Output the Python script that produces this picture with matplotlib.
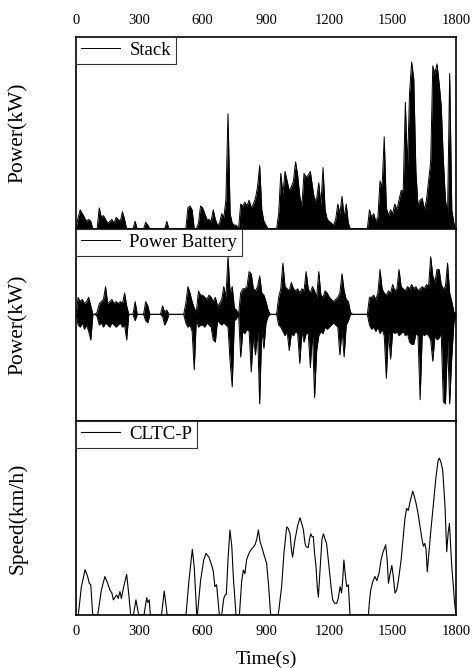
import numpy as np
import matplotlib
matplotlib.use("Agg")
import matplotlib.pyplot as plt

plt.rcParams['font.family'] = ['Liberation Serif', 'DejaVu Serif']

# ---- data ----
time_grid = np.arange(0, 1810, 10)  # 10 s samples, 0..1800

# Stack power, upper envelope per 10 s (relative kW units, panel 0..100)
stack_hi = [
    0, 6, 10, 8, 6, 4, 5, 4, 0, 0,
    0, 11, 6, 7, 5, 3, 4, 5, 3, 6,
    5, 4, 9, 5, 0, 0, 0, 0, 4, 0,
    0, 0, 0, 3.5, 2, 0, 0, 0, 0, 0,
    0, 0, 0, 4, 0, 0, 0, 0, 0, 0,
    0, 0, 0, 11, 12, 10, 0, 0, 3, 12,
    11, 8, 5, 5, 4, 10, 5, 2, 3, 8,
    6, 15, 60, 8, 3, 2, 2, 0, 13, 12,
    14, 12, 15, 11, 13, 16, 22, 33, 10, 4,
    2, 0, 0, 0, 0, 0, 8, 29, 18, 30,
    25, 20, 22, 25, 35, 28, 17, 12, 29, 27,
    28, 30, 22, 15, 16, 24, 12, 32, 10, 5,
    4, 3, 2, 5, 13, 8, 17, 6, 13, 3,
    0, 0, 0, 0, 0, 0, 0, 0, 0, 10,
    6, 8, 4, 6, 25, 22, 48, 11, 7, 10,
    8, 13, 10, 15, 20, 20, 66, 32, 71, 87,
    78, 30, 12, 15, 16, 10, 15, 25, 35, 85,
    81, 86, 76, 64, 36, 15, 8, 81, 10, 3,
    0,
]

# Power battery, upper / lower envelopes per 10 s (relative kW units)
batt_hi = [
    0, 8, 6, 7, 5, 6, 8, 4, 0, 0,
    1, 5, 6, 7, 13, 5, 6, 7, 5, 6,
    5, 6, 5, 10, 4, 0, 0, 0, 6, 0,
    0, 0, 0, 6, 4, 0, 0, 0, 0, 0,
    0, 4, 1, 2, 0, 0, 0, 0, 0, 0,
    0, 0, 5, 13, 10, 6, 3, 1, 11, 9,
    9, 8, 7, 9, 8, 6, 8, 4, 5, 7,
    13, 8, 27, 10, 13, 3, 2, 0, 10, 12,
    12, 13, 20, 19, 12, 11, 13, 18, 10, 9,
    6, 2, 0, 0, 0, 0, 8, 12, 24, 13,
    12, 11, 15, 12, 11, 12, 10, 12, 11, 20,
    12, 10, 13, 11, 8, 20, 9, 8, 11, 10,
    8, 7, 6, 7, 8, 10, 19, 11, 7, 6,
    1, 0, 0, 0, 0, 0, 0, 0, 0, 8,
    8, 9, 7, 10, 21, 12, 10, 9, 11, 10,
    14, 11, 12, 21, 13, 12, 11, 13, 12, 14,
    12, 13, 11, 12, 13, 12, 14, 13, 27, 18,
    15, 21, 21, 14, 12, 13, 24, 10, 6, 1,
    0.5,
]
batt_lo = [
    0, -5, -6, -4, -7, -5, -8, -12, 0, 0,
    -1, -5, -4, -6, -4, -5, -6, -4, -5, -6,
    -5, -4, -6, -5, -12, 0, 0, 0, -3, 0,
    0, 0, 0, -3, -4, 0, 0, 0, 0, 0,
    0, -1, -5, -3, 0, 0, 0, 0, 0, 0,
    0, 0, -4, -6, -5, -8, -26, -2, -6, -5,
    -5, -6, -4, -5, -6, -12, -13, -3, -4, -5,
    -4, -5, -6, -22, -34, -3, -2, 0, -20, -8,
    -9, -7, -8, -27, -10, -19, -8, -42, -7, -16,
    -4, -1, 0, 0, 0, 0, -5, -6, -8, -10,
    -8, -17, -9, -10, -8, -9, -23, -8, -13, -9,
    -9, -25, -8, -39, -17, -10, -8, -9, -6, -7,
    -6, -5, -4, -5, -6, -19, -7, -20, -5, -3,
    0, 0, 0, 0, 0, 0, 0, 0, 0, -5,
    -7, -6, -8, -6, -9, -7, -10, -30, -8, -21,
    -8, -9, -8, -10, -9, -8, -10, -9, -13, -14,
    -14, -9, -10, -40, -9, -10, -9, -10, -12, -22,
    -10, -12, -11, -9, -41, -42, -12, -42, -20, -4,
    0,
]

# CLTC-P speed trace (km/h), key points
speed_t = [0, 11, 25, 43, 55, 63, 70, 79,
           103, 120, 137, 150, 161, 170, 177, 185, 193, 200, 208, 215, 225, 240, 250, 259,
           272, 284, 297,
           322, 335, 340, 347, 352,
           405, 418, 432,
           521, 535, 551, 560, 572,
           575, 590, 605, 616, 630, 643, 650, 658, 666, 679,
           690, 700, 706, 712, 720, 729, 738, 745, 758,
           774, 785, 793, 800, 808, 817, 827, 838, 848, 856, 864, 872, 880, 890, 903, 912, 922,
           958, 966, 974, 985, 998, 1005, 1014, 1020, 1026, 1037, 1050, 1061, 1070, 1077, 1085,
           1090, 1100, 1106, 1112, 1118, 1124, 1130, 1137, 1143, 1148, 1155, 1165, 1172, 1180,
           1187, 1195, 1203, 1210, 1216, 1225, 1235, 1242, 1251, 1258, 1263, 1269, 1275, 1282,
           1290, 1298,
           1385, 1390, 1396, 1405, 1416, 1425, 1435, 1445, 1453, 1467, 1474, 1480, 1488, 1496,
           1503, 1511, 1519, 1527, 1540, 1550, 1558, 1566, 1574, 1582, 1595, 1603, 1611, 1620,
           1630, 1640, 1646, 1652, 1658, 1664, 1670, 1680, 1693, 1705, 1715, 1721, 1729, 1737,
           1748, 1756, 1763, 1769, 1775, 1780, 1787, 1792, 1800]
speed_v = [0, 0, 20, 33, 28, 23, 22, 0,
           0, 18, 28, 23, 18, 16, 11, 13, 14.5, 12, 17, 12, 20, 29.5, 15, 0,
           0, 11, 0,
           0, 12.6, 9, 11, 0,
           0, 17.4, 0,
           0, 25, 47.7, 35, 0,
           0, 25, 40, 44.8, 42, 36, 32, 20.6, 22, 0,
           0, 12, 14.5, 15, 40, 61.7, 50, 28, 0,
           0, 25, 32.7, 30, 40, 44, 47, 49, 51, 55, 61.7, 53, 49.6, 44, 37.5, 22, 0,
           0, 10, 20.6, 45, 64, 63, 59, 48, 42, 54.5, 65, 70.7, 66, 62, 52,
           49.6, 49, 55, 59, 57, 57, 45, 35, 20, 13, 30, 55, 59, 55,
           52, 40, 28, 18, 11, 8.5, 8.5, 12, 20.6, 16, 25, 40, 30, 20.6,
           22, 0,
           0, 10, 18, 24, 28, 25, 30, 40, 45, 51, 40, 23, 30, 36,
           28, 16, 18, 25, 40, 57, 70, 77.5, 76, 82, 90, 86, 81, 74,
           64, 54, 50, 52, 48, 31.5, 42, 60, 81, 100, 112, 114, 111, 105,
           79, 46, 60, 66.6, 50, 35, 22, 11, 0]

x_ticks = [0, 300, 600, 900, 1200, 1500, 1800]
series_names = ['Stack', 'Power Battery', 'CLTC-P']
y_labels = ['Power(kW)', 'Power(kW)', 'Speed(km/h)']

# ---- figure ----
W, H = 474, 668
fig = plt.figure(figsize=(W / 100, H / 100), dpi=100)
left, right = 76 / W, 456 / W
bounds = [(37, 229), (229, 421), (421, 615)]
axes = []
for top, bot in bounds:
    ax = fig.add_axes([left, 1 - bot / H, right - left, (bot - top) / H])
    axes.append(ax)

t = time_grid
ax1, ax2, ax3 = axes

ax1.fill_between(t, 0, stack_hi, color='black', lw=0)
ax1.plot(t, stack_hi, color='black', lw=0.7, label=series_names[0])
ax1.set_ylim(0, 100)

ax2.fill_between(t, batt_lo, batt_hi, color='black', lw=0)
ax2.plot(t, batt_hi, color='black', lw=0.7, label=series_names[1])
ax2.plot(t, batt_lo, color='black', lw=0.7)
ax2.set_ylim(-50, 40)

ax3.plot(speed_t, speed_v, color='black', lw=0.8, label=series_names[2])
ax3.set_ylim(0, 141)

for i, ax in enumerate(axes):
    ax.set_xlim(0, 1800)
    ax.set_yticks([])
    ax.set_xticks(x_ticks)
    for s in ax.spines.values():
        s.set_linewidth(1.2)
    ax.tick_params(axis='x', length=0, pad=7, labelsize=10.5)
    ax.set_ylabel(y_labels[i], fontsize=15.5)
    ax.yaxis.set_label_coords(-0.127, 0.5)
    leg = ax.legend(loc='upper left', borderaxespad=0, fontsize=13.5, fancybox=False,
                    framealpha=1, edgecolor='#333333', handlelength=2.1,
                    handletextpad=0.5, borderpad=0.25)
    leg.get_frame().set_linewidth(0.8)

ax1.tick_params(axis='x', labeltop=True, labelbottom=False)
ax2.tick_params(axis='x', labeltop=False, labelbottom=False)
ax3.tick_params(axis='x', labeltop=False, labelbottom=True)
ax3.set_xlabel('Time(s)', fontsize=14, labelpad=9)

fig.savefig('out.png', dpi=100)
